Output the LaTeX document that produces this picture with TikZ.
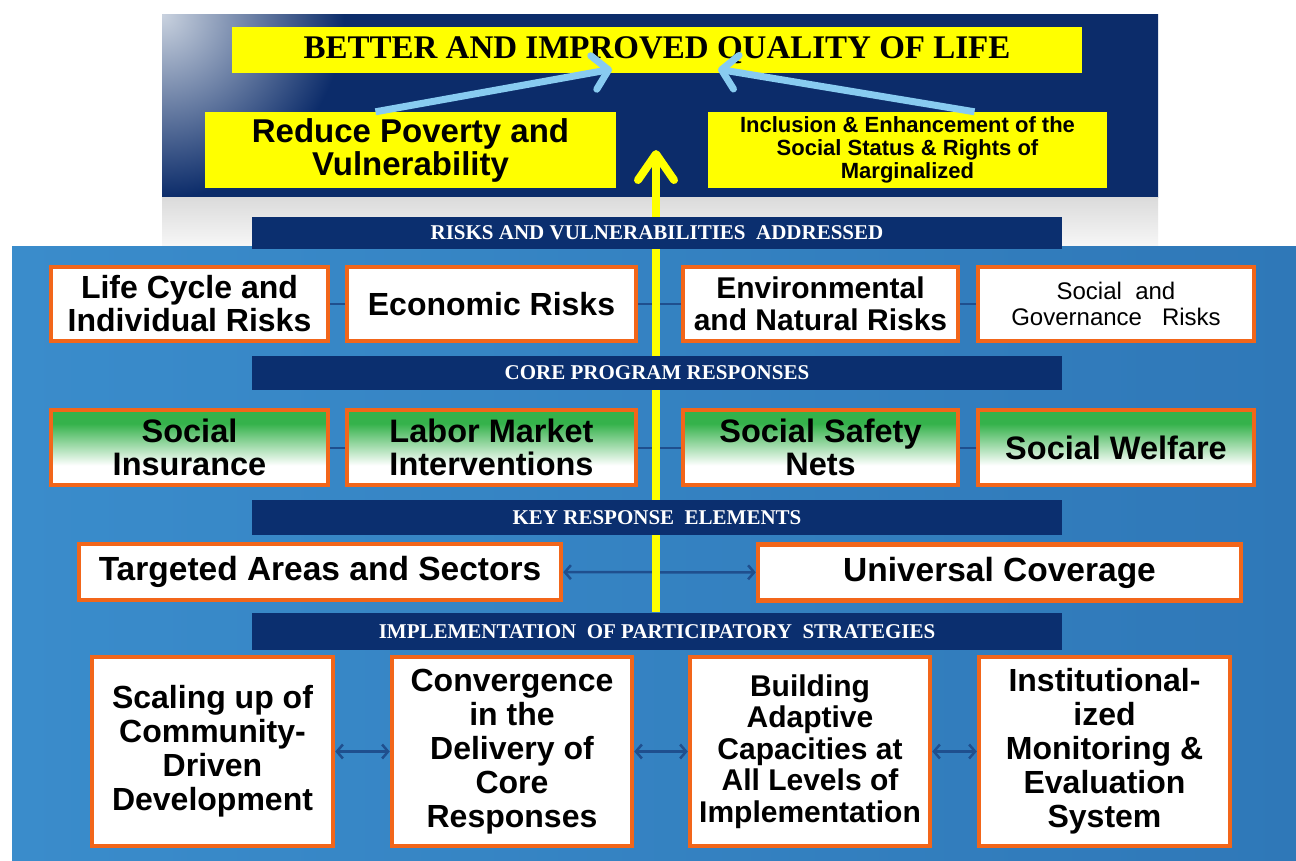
\documentclass[tikz,border=0pt]{standalone}
\usepackage{fontspec}
\newfontfamily\boxfont{Liberation Sans}
\newfontfamily\titlefont{Liberation Serif}
\usetikzlibrary{arrows.meta,backgrounds,shadings}

\definecolor{navy}{HTML}{0C2C6A}
\definecolor{navylight}{HTML}{C9D2DF}
\definecolor{barblue}{HTML}{0B2F6F}
\definecolor{skyA}{HTML}{3A8CCB}
\definecolor{skyB}{HTML}{5CBBE9}
\definecolor{skyC}{HTML}{2F78B8}
\definecolor{boxorange}{HTML}{F2661A}
\definecolor{leafgreen}{HTML}{35B24B}
\definecolor{linkblue}{HTML}{1F4F8E}
\definecolor{arrowsky}{HTML}{88CBF0}
\definecolor{goalyellow}{HTML}{FFFF00}

\pgfdeclareverticalshading{greenfade}{100bp}{color(0bp)=(white); color(38bp)=(white); color(66bp)=(leafgreen); color(100bp)=(leafgreen)}
\pgfdeclareradialshading{cornerglow}{\pgfpoint{0bp}{0bp}}{color(0bp)=(navylight); color(3.5bp)=(navy); color(50bp)=(navy)}

\begin{document}
\begin{tikzpicture}[x=1pt,y=-1pt,
        riskbox/.style={
            draw=boxorange,
            line width=4.5pt,
            fill=white,
            align=center,
            inner sep=0pt,
            minimum width=#1,
            minimum height=74pt,
            font=\boxfont\bfseries\fontsize{32}{33}\selectfont
        },
        riskbox/.default=277pt,
        respbox/.style={
            riskbox=#1,
            shading=greenfade,
            minimum height=75pt,
            font=\boxfont\bfseries\fontsize{32.5}{33}\selectfont
        },
        respbox/.default=277pt,
        elembox/.style={
            riskbox=#1,
            minimum height=56pt,
            font=\boxfont\bfseries\fontsize{33.5}{35}\selectfont
        },
        stratbox/.style={
            riskbox=#1,
            minimum height=189pt,
            font=\boxfont\bfseries\fontsize{32}{34}\selectfont
        },
        outcome/.style={
            fill=goalyellow,
            align=center,
            inner sep=0pt,
            font=\boxfont\bfseries\fontsize{33}{33}\selectfont
        },
        banner/.style={
            fill=barblue,
            text=white,
            inner sep=0pt,
            minimum width=810pt,
            font=\titlefont\bfseries\fontsize{21}{23}\selectfont
        },
        link/.style={draw=linkblue, line width=2pt},
        twoway/.style={draw=linkblue, line width=2.5pt,
            {Straight Barb[length=6pt,width=14pt]}-{Straight Barb[length=6pt,width=14pt]}},
        feed/.style={draw=arrowsky, line width=7pt,
            -{Straight Barb[round,length=15pt,width=34pt]}},
        upflow/.style={draw=goalyellow, line width=8pt,
            -{Straight Barb[round,length=26pt,width=36pt]}}
    ]
        % panels behind everything
        \begin{scope}[on background layer]
            \fill[white] (0,0) rectangle (1296,861);
            \begin{scope}
                \clip (162,15) rectangle (1158,198);
                \shade[shading=cornerglow] (162,15) circle[radius=1300];
            \end{scope}
            \shade[top color=gray!28, bottom color=gray!6]
                (162,198) rectangle (1158,247);
            \shade[left color=skyA, middle color=skyB, right color=skyC]
                (12,247) rectangle (1296,861);
        \end{scope}

        % goals
        \node[outcome, minimum width=850pt, minimum height=46pt,
            font=\titlefont\bfseries\fontsize{33}{34}\selectfont]
            (quality) at (657,50) {BETTER AND IMPROVED QUALITY OF LIFE};
        \node[outcome, minimum width=411pt, minimum height=76pt]
            (poverty) at (410.5,150) {Reduce Poverty and\\Vulnerability};
        \node[outcome, minimum width=399pt, minimum height=76pt,
            font=\boxfont\bfseries\fontsize{22}{23}\selectfont]
            (inclusion) at (907.5,150)
            {Inclusion \& Enhancement of the\\Social Status \& Rights of\\Marginalized};

        \draw[feed] ([xshift=-35pt]poverty.north)
            -- ([xshift=-45pt,yshift=4pt]quality.south);
        \draw[feed] ([xshift=67pt]inclusion.north)
            -- ([xshift=61pt,yshift=4pt]quality.south);

        % risks
        \node[riskbox] (life) at (189.5,304) {Life Cycle and\\Individual Risks};
        \node[riskbox=289pt] (econ) at (491.5,304) {Economic Risks};
        \node[riskbox=275pt, font=\boxfont\bfseries\fontsize{30}{32}\selectfont]
            (envi) at (820.5,304) {Environmental\\and Natural Risks};
        \node[riskbox=276pt, font=\boxfont\fontsize{24}{26}\selectfont]
            (gov) at (1116,304) {Social\ \ and\\Governance\ \ \ Risks};

        % core responses
        \node[respbox] (insur) at (189.5,447.5) {Social\\Insurance};
        \node[respbox=289pt] (labor) at (491.5,447.5)
            {Labor Market\\Interventions};
        \node[respbox=275pt] (safety) at (820.5,447.5) {Social Safety\\Nets};
        \node[respbox=276pt] (welfare) at (1116,447.5) {Social Welfare};

        % key elements
        \node[elembox=482pt] (target) at (320,572) {Targeted Areas and Sectors};
        \node[elembox=483pt] (univ) at (999.5,572.5) {Universal Coverage};

        % strategies
        \node[stratbox=241pt] (scaling) at (212.5,751.5)
            {Scaling up of\\Community-\\Driven\\Development};
        \node[stratbox=240pt] (converge) at (512,751.5)
            {Convergence\\in the\\Delivery of\\Core\\Responses};
        \node[stratbox=240pt, font=\boxfont\bfseries\fontsize{30}{31.5}\selectfont]
            (building) at (810,751.5)
            {Building\\Adaptive\\Capacities at\\All Levels of\\Implementation};
        \node[stratbox=251pt] (monitor) at (1104.5,751.5)
            {Institutional-\\ized\\Monitoring \&\\Evaluation\\System};

        \draw[link] (life) -- (econ);
        \draw[link] (econ) -- (envi);
        \draw[link] (envi) -- (gov);
        \draw[link] (insur) -- (labor);
        \draw[link] (labor) -- (safety);
        \draw[link] (safety) -- (welfare);
        \draw[twoway] (target) -- (univ);
        \draw[twoway] (scaling) -- (converge);
        \draw[twoway] (converge) -- (building);
        \draw[twoway] (building) -- (monitor);

        % upward flow, under the banners
        \coordinate (base) at (656,612);
        \coordinate (peak) at (656,150);
        \draw[upflow] (base) -- (peak);

        % banners
        \node[banner, minimum height=32pt] (riskbar) at (657,233)
            {RISKS AND VULNERABILITIES\ \ ADDRESSED};
        \node[banner, minimum height=34pt] (corebar) at (657,373)
            {CORE PROGRAM RESPONSES};
        \node[banner, minimum height=35pt] (keybar) at (657,517.5)
            {KEY RESPONSE\ \ ELEMENTS};
        \node[banner, minimum height=37pt] (implbar) at (657,631.5)
            {IMPLEMENTATION\ \ OF PARTICIPATORY\ \ STRATEGIES};
    \end{tikzpicture}
\end{document}
